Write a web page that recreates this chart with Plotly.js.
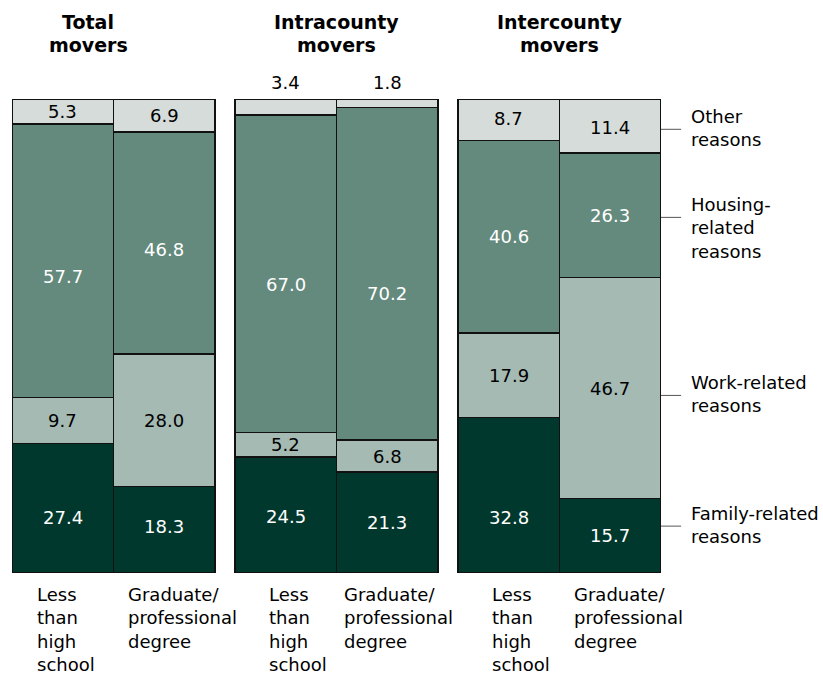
<!DOCTYPE html>
<html>
<head>
<meta charset="utf-8">
<script src="https://cdn.plot.ly/plotly-3.0.1.min.js"></script>
<style>html,body{margin:0;padding:0;background:#fff;}#chart{width:823px;height:681px;}</style>
</head>
<body>
<div id="chart"></div>
<script>
// ---- data ----
const groups = ["Total<br>movers", "Intracounty<br>movers", "Intercounty<br>movers"];
const categories = ["Less<br>than<br>high<br>school", "Graduate/<br>professional<br>degree",
                    "Less<br>than<br>high<br>school", "Graduate/<br>professional<br>degree",
                    "Less<br>than<br>high<br>school", "Graduate/<br>professional<br>degree"];
const family  = [27.4, 18.3, 24.5, 21.3, 32.8, 15.7];
const work    = [9.7, 28.0, 5.2, 6.8, 17.9, 46.7];
const housing = [57.7, 46.8, 67.0, 70.2, 40.6, 26.3];
const other   = [5.3, 6.9, 3.4, 1.8, 8.7, 11.4];
const seriesNames = ["Family-related<br>reasons", "Work-related<br>reasons", "Housing-<br>related<br>reasons", "Other<br>reasons"];

// ---- layout helpers ----
const FONT = "DejaVu Sans, sans-serif";
const xpos = categories.map((_, i) => i + 0.5 + 0.2 * Math.floor(i / 2));
const colors = ["#00382d", "#a4bab3", "#648a7e", "#d5dcd9"];
const textColors = ["#ffffff", "#000000", "#ffffff", "#000000"];
const series = [family, work, housing, other];
// vertical nudges (px, downwards) of value labels, as placed in the original figure
const labelNudge = [
  [9, -3, 2, 0, 22, 0],
  [0, 0, 0, 0, 0, 0],
  [16, 7, 11, 20, 0, 0],
  [0, 0, 0, 0, -2, 2]
];

const traces = series.map((vals, k) => ({
  type: "bar",
  x: xpos,
  y: vals,
  width: 1,
  name: seriesNames[k],
  marker: {color: colors[k], line: {color: "#111", width: 1.5}},
  textposition: "none",
  hoverinfo: "skip",
  showlegend: false
}));

const annotations = [];
// value labels
series.forEach((vals, k) => {
  vals.forEach((v, i) => {
    let base = 0;
    for (let j = 0; j < k; j++) base += series[j][i];
    if (v >= 4) {
      annotations.push({x: xpos[i], y: base + v / 2, xref: "x", yref: "y", yanchor: "middle",
        yshift: -labelNudge[k][i], text: v.toFixed(1), showarrow: false,
        font: {family: FONT, size: 18, color: textColors[k]}});
    } else {
      annotations.push({x: xpos[i], y: 1, xref: "x", yref: "paper", yanchor: "bottom", yshift: 4,
        text: v.toFixed(1), showarrow: false, font: {family: FONT, size: 18, color: "#000"}});
    }
  });
});
// group titles
const titleX = [0.75, 2.7 + 0.5, 4.9 + 0.5];
groups.forEach((g, gi) => {
  g.split("<br>").forEach((line, li) => {
    annotations.push({x: titleX[gi], xref: "x", y: 1, yref: "paper", yanchor: "middle",
      yshift: 77 - li * 23, text: "<b>" + line + "</b>", showarrow: false,
      font: {family: FONT, size: 19, color: "#000"}});
  });
});
// category labels (left aligned)
const labelShift = [-28, -38, -19, -45, -19, -38];
categories.forEach((c, i) => {
  annotations.push({x: xpos[i], xref: "x", y: 0, yref: "y", xanchor: "left", yanchor: "top",
    xshift: labelShift[i], yshift: -9, align: "left", text: c, showarrow: false,
    font: {family: FONT, size: 18, color: "#000"}});
});
// series labels on the right with leader lines
const legendY = [9.9, 37.5, 75.1, 93.7];
const shapes = [];
seriesNames.forEach((n, k) => {
  shapes.push({type: "line", xref: "paper", yref: "y", x0: 1.0, x1: 1.031,
    y0: legendY[k], y1: legendY[k], line: {color: "#555", width: 1}});
  annotations.push({x: 1.043, xref: "paper", y: legendY[k], yref: "y", xanchor: "left",
    yanchor: "top", yshift: 25, align: "left", text: n, showarrow: false,
    font: {family: FONT, size: 18, color: "#000"}});
});

const layout = {
  width: 823, height: 681,
  margin: {l: 12, r: 162, t: 99, b: 108},
  paper_bgcolor: "#fff", plot_bgcolor: "#fff",
  barmode: "stack",
  xaxis: {range: [0, 6.4], showgrid: false, zeroline: false, showticklabels: false, ticks: "", fixedrange: true},
  yaxis: {range: [0, 100.1], showgrid: false, zeroline: false, showticklabels: false, ticks: "", fixedrange: true},
  annotations: annotations,
  shapes: shapes,
  font: {family: FONT}
};

Plotly.newPlot("chart", traces, layout, {staticPlot: true, displayModeBar: false});
</script>
</body>
</html>
